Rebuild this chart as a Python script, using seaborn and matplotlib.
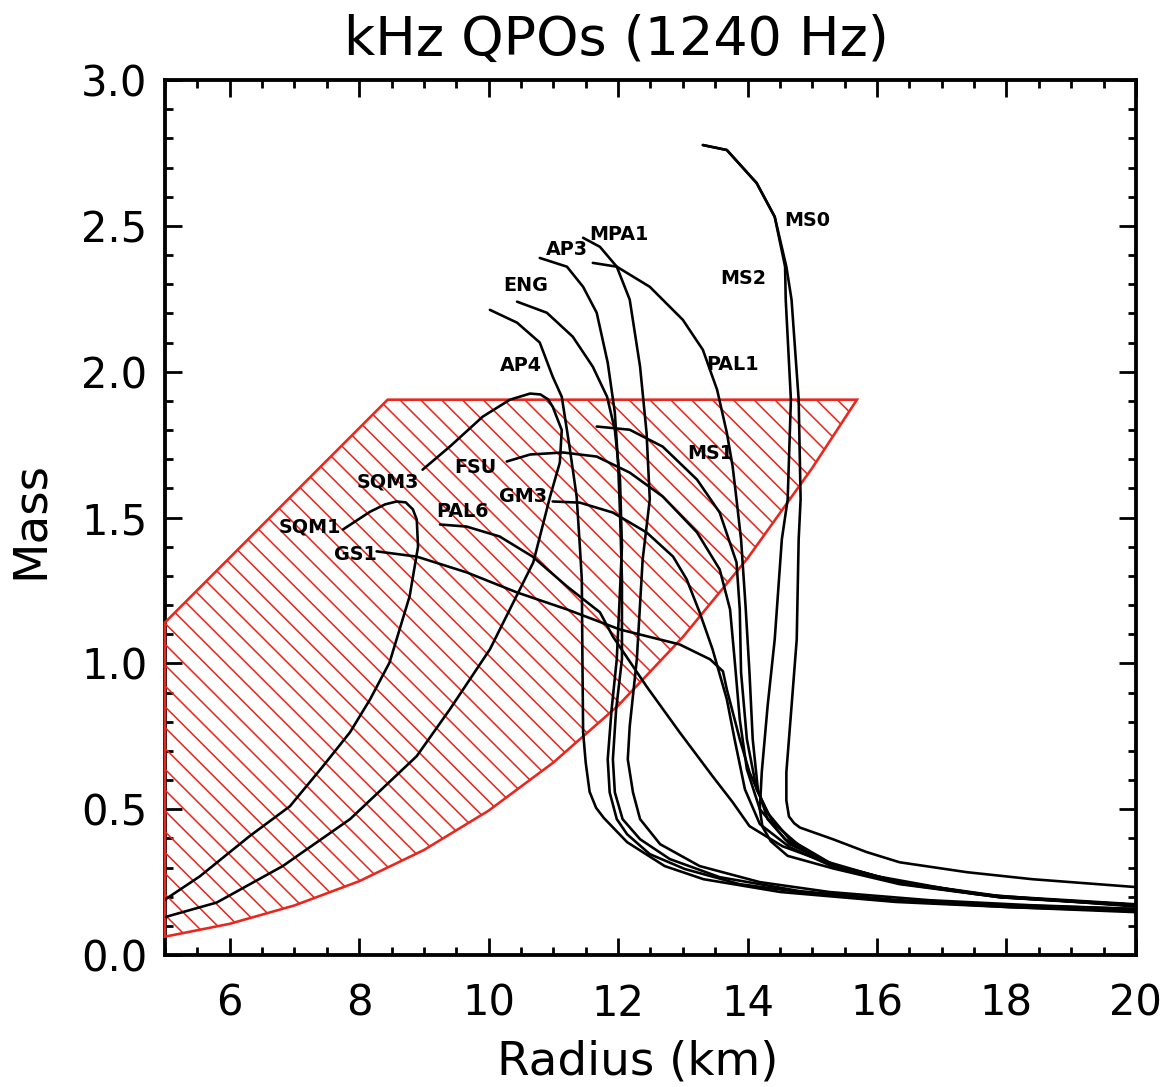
import pandas as pd
import matplotlib.pyplot as plt
import matplotlib.ticker as ticker
import seaborn as sns

# mass (Msun) vs radius (km) curves
r_ms0 = [13.31, 13.68, 14.14, 14.42, 14.60, 14.68, 14.79, 14.82, 14.79, 14.76, 14.68, 14.60, 14.60, 14.64, 14.72, 14.81, 15.32, 15.84, 16.35, 17.39, 18.40, 20.0]
m_ms0 = [2.777, 2.760, 2.647, 2.531, 2.360, 2.247, 1.904, 1.562, 1.425, 1.082, 0.853, 0.627, 0.530, 0.475, 0.452, 0.437, 0.397, 0.353, 0.318, 0.284, 0.260, 0.233]

r_ms2 = [13.31, 13.68, 14.14, 14.42, 14.58, 14.59, 14.67, 14.62, 14.53, 14.42, 14.31, 14.22, 14.19, 14.23, 14.36, 14.62, 15.32, 16.35, 17.90, 20.0]
m_ms2 = [2.777, 2.760, 2.647, 2.531, 2.360, 2.247, 1.904, 1.562, 1.425, 1.082, 0.853, 0.627, 0.500, 0.440, 0.390, 0.340, 0.297, 0.243, 0.198, 0.172]

r_pal1 = [11.61, 11.98, 12.49, 13.00, 13.31, 13.53, 13.68, 13.77, 13.83, 13.90, 13.97, 14.03, 14.08, 14.16, 14.31, 14.65, 15.32, 16.35, 17.90, 20.0]
m_pal1 = [2.373, 2.360, 2.291, 2.178, 2.075, 1.938, 1.791, 1.675, 1.562, 1.425, 1.195, 0.969, 0.740, 0.568, 0.466, 0.380, 0.310, 0.250, 0.200, 0.172]

r_ms1 = [11.67, 12.18, 12.69, 13.22, 13.57, 13.83, 13.88, 13.90, 13.99, 14.14, 14.39, 14.81, 15.32, 16.35, 17.90, 20.0]
m_ms1 = [1.812, 1.801, 1.743, 1.630, 1.517, 1.346, 1.185, 0.969, 0.740, 0.568, 0.455, 0.373, 0.305, 0.247, 0.199, 0.170]

r_fsu = [10.28, 10.64, 11.15, 11.67, 12.18, 12.69, 13.22, 13.57, 13.73, 13.80, 13.88, 13.99, 14.19, 14.58, 15.32, 16.35, 17.90, 20.0]
m_fsu = [1.692, 1.716, 1.723, 1.709, 1.654, 1.572, 1.449, 1.322, 1.185, 1.014, 0.808, 0.637, 0.500, 0.397, 0.307, 0.248, 0.200, 0.172]

r_gm3 = [10.99, 11.41, 11.92, 12.44, 12.85, 13.06, 13.26, 13.46, 13.68, 13.80, 13.96, 14.19, 14.65, 15.32, 16.35, 17.90, 20.0]
m_gm3 = [1.555, 1.551, 1.517, 1.449, 1.366, 1.288, 1.175, 1.048, 0.877, 0.740, 0.568, 0.449, 0.370, 0.303, 0.245, 0.198, 0.169]

r_pal6 = [9.25, 9.66, 10.17, 10.68, 11.21, 11.72, 11.92, 12.44, 12.95, 13.46, 13.77, 14.03, 14.54, 15.07, 16.00, 17.50, 20.0]
m_pal6 = [1.476, 1.469, 1.435, 1.366, 1.264, 1.175, 1.092, 0.921, 0.764, 0.613, 0.524, 0.442, 0.373, 0.330, 0.270, 0.210, 0.166]

r_gs1 = [8.27, 8.89, 9.66, 10.44, 11.21, 12.03, 12.95, 13.42, 13.62, 13.68, 13.88, 14.03, 14.30, 14.65, 15.32, 16.35, 17.90, 20.0]
m_gs1 = [1.384, 1.366, 1.312, 1.243, 1.185, 1.116, 1.065, 1.014, 0.973, 0.911, 0.740, 0.627, 0.490, 0.397, 0.310, 0.250, 0.202, 0.174]

r_ap4 = [10.02, 10.44, 10.79, 10.99, 11.13, 11.25, 11.36, 11.41, 11.44, 11.45, 11.46, 11.50, 11.56, 11.66, 11.78, 12.14, 12.72, 13.32, 14.51, 16.29, 18.07, 20.0]
m_ap4 = [2.212, 2.168, 2.100, 1.983, 1.914, 1.743, 1.572, 1.400, 1.288, 1.000, 0.764, 0.660, 0.560, 0.505, 0.470, 0.387, 0.305, 0.260, 0.216, 0.182, 0.164, 0.147]

r_eng = [10.44, 10.90, 11.30, 11.61, 11.83, 11.95, 12.03, 12.06, 12.03, 11.98, 11.90, 11.84, 11.87, 11.98, 12.14, 12.49, 13.03, 13.88, 14.81, 16.35, 18.07, 20.0]
m_eng = [2.240, 2.202, 2.120, 2.017, 1.914, 1.801, 1.630, 1.400, 1.250, 1.014, 0.842, 0.671, 0.558, 0.466, 0.414, 0.346, 0.295, 0.243, 0.216, 0.185, 0.164, 0.151]

r_ap3 = [10.79, 11.21, 11.46, 11.67, 11.84, 11.95, 12.00, 12.03, 12.06, 12.06, 11.97, 11.92, 11.95, 12.07, 12.34, 12.80, 13.57, 14.81, 16.35, 18.07, 20.0]
m_ap3 = [2.390, 2.360, 2.291, 2.202, 2.031, 1.860, 1.688, 1.517, 1.288, 1.014, 0.842, 0.671, 0.558, 0.466, 0.397, 0.329, 0.267, 0.219, 0.188, 0.171, 0.158]

r_mpa1 = [11.46, 11.72, 11.98, 12.18, 12.34, 12.44, 12.49, 12.38, 12.29, 12.18, 12.15, 12.23, 12.34, 12.65, 13.26, 14.19, 15.27, 16.81, 18.36, 20.0]
m_mpa1 = [2.459, 2.428, 2.360, 2.247, 2.017, 1.791, 1.562, 1.356, 1.014, 0.784, 0.671, 0.558, 0.466, 0.380, 0.305, 0.250, 0.216, 0.188, 0.171, 0.158]

r_sqm1 = [7.75, 8.17, 8.40, 8.58, 8.72, 8.83, 8.89, 8.91, 8.78, 8.47, 8.17, 7.86, 7.44, 6.93, 6.31, 5.54, 5.0]
m_sqm1 = [1.459, 1.520, 1.545, 1.555, 1.552, 1.528, 1.493, 1.400, 1.230, 1.003, 0.877, 0.764, 0.647, 0.510, 0.408, 0.270, 0.190]

r_sqm3 = [8.98, 9.40, 9.91, 10.33, 10.64, 10.80, 10.92, 10.99, 11.13, 11.10, 10.95, 10.69, 10.02, 9.40, 8.89, 7.86, 6.82, 5.80, 5.0]
m_sqm3 = [1.664, 1.743, 1.846, 1.904, 1.925, 1.922, 1.905, 1.880, 1.800, 1.688, 1.572, 1.346, 1.048, 0.842, 0.682, 0.466, 0.305, 0.180, 0.130]

# allowed region from the 1240 Hz kHz QPO
r_box = [5.0, 6.0, 7.0, 8.0, 9.0, 10.0, 11.0, 12.0, 13.0, 14.0, 15.0, 15.69, 8.44, 5.0]
m_box = [0.063, 0.107, 0.170, 0.253, 0.360, 0.495, 0.660, 0.855, 1.090, 1.360, 1.670, 1.904, 1.904, 1.140]

# curve labels
label_names = ['MS0', 'MPA1', 'AP3', 'MS2', 'ENG', 'PAL1', 'AP4', 'MS1', 'FSU', 'SQM3', 'GM3', 'PAL6', 'SQM1', 'GS1']
label_r = [14.92, 12.01, 11.21, 13.93, 10.58, 13.77, 10.50, 13.42, 9.80, 8.44, 10.53, 9.59, 7.24, 7.95]
label_m = [2.520, 2.470, 2.420, 2.318, 2.295, 2.024, 2.020, 1.719, 1.671, 1.623, 1.572, 1.521, 1.469, 1.373]

curves = [('MS0', r_ms0, m_ms0), ('MS2', r_ms2, m_ms2), ('PAL1', r_pal1, m_pal1),
          ('MS1', r_ms1, m_ms1), ('FSU', r_fsu, m_fsu), ('GM3', r_gm3, m_gm3),
          ('PAL6', r_pal6, m_pal6), ('GS1', r_gs1, m_gs1), ('AP4', r_ap4, m_ap4),
          ('ENG', r_eng, m_eng), ('AP3', r_ap3, m_ap3), ('MPA1', r_mpa1, m_mpa1),
          ('SQM1', r_sqm1, m_sqm1), ('SQM3', r_sqm3, m_sqm3)]
data = pd.concat([pd.DataFrame({'radius': r, 'mass': m, 'eos': name}) for name, r, m in curves],
                 ignore_index=True)

sns.set_style('ticks')
plt.rcParams['font.family'] = ['DejaVu Sans']
plt.rcParams['text.color'] = 'black'
plt.rcParams['axes.labelcolor'] = 'black'
plt.rcParams['hatch.linewidth'] = 0.9
plt.rcParams['lines.solid_joinstyle'] = 'round'

red = '#e8281e'

fig = plt.figure(figsize=(1169 / 125, 1087 / 125), dpi=125)
ax = fig.add_axes([0.1411, 0.1214, 0.8306, 0.8050])

# hatched QPO region
ax.fill(r_box, m_box, facecolor='none', edgecolor=red, hatch='\\\\', linewidth=1.5, zorder=3, clip_on=False)

# EOS curves
sns.lineplot(data=data, x='radius', y='mass', units='eos', estimator=None, sort=False,
             color='black', linewidth=1.5, legend=False, ax=ax, zorder=4)

for name, r, m in zip(label_names, label_r, label_m):
    ax.text(r, m, name, ha='center', va='center', fontsize=11, fontweight='bold',
            color='black', zorder=5)

ax.set_xlim(5, 20)
ax.set_ylim(0, 3)
ax.xaxis.set_major_locator(ticker.MultipleLocator(2))
ax.xaxis.set_minor_locator(ticker.MultipleLocator(0.5))
ax.yaxis.set_major_locator(ticker.MultipleLocator(0.5))
ax.yaxis.set_minor_locator(ticker.MultipleLocator(0.1))
ax.yaxis.set_major_formatter(ticker.FormatStrFormatter('%.1f'))

ax.tick_params(which='both', direction='in', top=True, right=True, width=1.6,
               colors='black', labelcolor='black')
ax.tick_params(which='major', length=10, labelsize=24)
ax.tick_params(which='minor', length=4.5)
ax.tick_params(axis='x', which='major', pad=16)
ax.tick_params(axis='y', which='major', pad=10)
for side in ax.spines.values():
    side.set_linewidth(2.2)
    side.set_color('black')

ax.set_xlabel('Radius (km)', fontsize=27, va='center', color='black')
ax.xaxis.set_label_coords(0.487, -0.122)
ax.set_ylabel('Mass', fontsize=27, va='center', color='black')
ax.yaxis.set_label_coords(-0.139, 0.497)
fig.text(0.527, 1 - 40 / 1087, 'kHz QPOs (1240 Hz)', fontsize=31, ha='center', va='center',
         color='black')

fig.savefig('out.png', dpi=125, facecolor='white')
